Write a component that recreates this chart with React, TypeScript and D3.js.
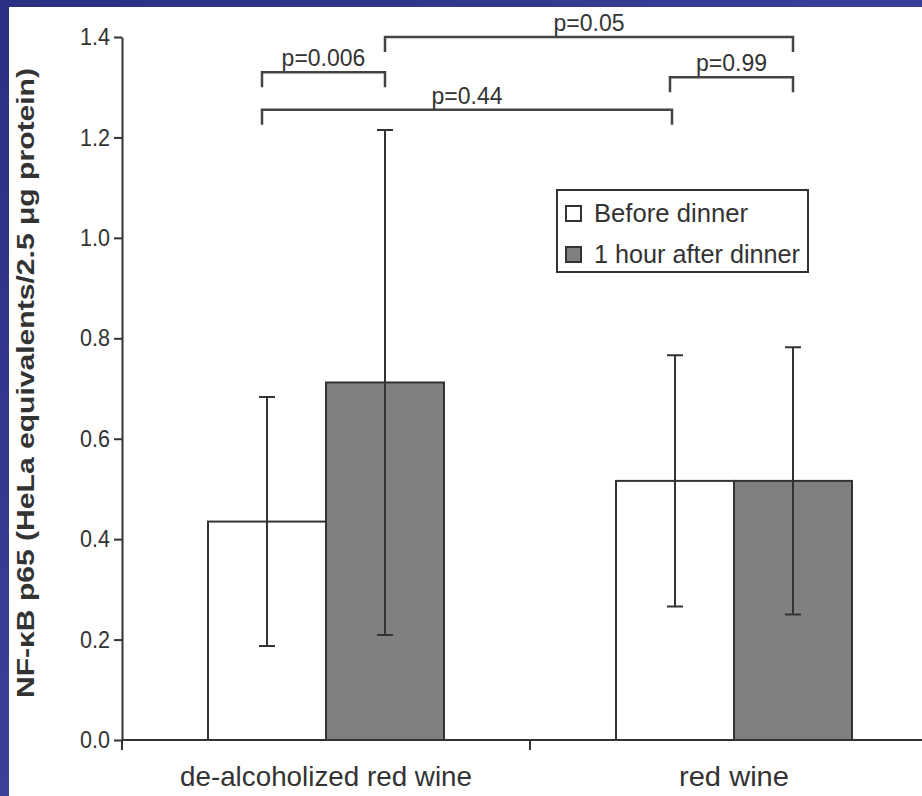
import React, { useEffect, useRef } from 'react';
import * as d3 from 'd3';

const categories = ['de-alcoholized red wine', 'red wine'];
const seriesNames = ['Before dinner', '1 hour after dinner'];
const beforeMeans = [0.435, 0.516];
const afterMeans = [0.712, 0.516];
const beforeSD = [0.248, 0.25];
const afterSD = [0.503, 0.266];
const yTicks = [0, 0.2, 0.4, 0.6, 0.8, 1.0, 1.2, 1.4];

// significance brackets: [category, series] at each end, level in y units
const pLabels = ['p=0.05', 'p=0.006', 'p=0.99', 'p=0.44'];
const pFrom = [[0, 1], [0, 0], [1, 0], [0, 0]];
const pTo = [[1, 1], [0, 1], [1, 1], [1, 0]];
const pLevel = [1.4, 1.33, 1.32, 1.255];

const W = 922;
const H = 796;
const FONT = "'Liberation Sans', Arial, Helvetica, sans-serif";
const INK = '#333';

const App = () => {
  const ref = useRef<SVGSVGElement>(null);

  useEffect(() => {
    const svg = d3.select(ref.current);
    svg.selectAll('*').remove();

    // background
    const defs = svg.append('defs');
    const grad = defs.append('linearGradient')
      .attr('id', 'bg').attr('x1', 0).attr('y1', 0).attr('x2', 1).attr('y2', 1);
    grad.append('stop').attr('offset', '0%').attr('stop-color', '#2a2f82');
    grad.append('stop').attr('offset', '100%').attr('stop-color', '#4a50b0');
    svg.append('rect').attr('width', W).attr('height', H).attr('fill', 'url(#bg)');
    svg.append('rect').attr('x', 9).attr('y', 7).attr('width', W - 9).attr('height', H - 7).attr('fill', '#fff');

    const x0 = d3.scaleBand().domain(categories).range([122, 938]).padding(0);
    const x1 = d3.scaleBand().domain(seriesNames).range([86, x0.bandwidth() - 86]).padding(0);
    const y = d3.scaleLinear().domain([0, 1.4]).range([740, 37]);

    const rows = categories.map((c, i) => [
      { cat: c, key: seriesNames[0], mean: beforeMeans[i], sd: beforeSD[i], fill: '#fff' },
      { cat: c, key: seriesNames[1], mean: afterMeans[i], sd: afterSD[i], fill: '#808080' },
    ]);
    const cx = (ci: number, si: number) =>
      (x0(categories[ci]) as number) + (x1(seriesNames[si]) as number) + x1.bandwidth() / 2;

    // bars
    const g = svg.append('g');
    const bars = g.selectAll('g.bar').data(rows.flat()).enter().append('g');
    bars.append('rect')
      .attr('x', d => (x0(d.cat) as number) + (x1(d.key) as number))
      .attr('y', d => y(d.mean))
      .attr('width', x1.bandwidth())
      .attr('height', d => y(0) - y(d.mean))
      .attr('fill', d => d.fill)
      .attr('stroke', INK)
      .attr('stroke-width', 2);

    // error bars
    bars.append('path')
      .attr('d', d => {
        const x = (x0(d.cat) as number) + (x1(d.key) as number) + x1.bandwidth() / 2;
        const t = y(d.mean + d.sd);
        const b = y(d.mean - d.sd);
        return `M${x - 8},${t}H${x + 8}M${x},${t}V${b}M${x - 8},${b}H${x + 8}`;
      })
      .attr('fill', 'none')
      .attr('stroke', INK)
      .attr('stroke-width', 2);

    // y axis
    const yAxis = svg.append('g').attr('transform', 'translate(122,0)')
      .call(d3.axisLeft(y).tickValues(yTicks).tickFormat(d3.format('.1f')).tickSize(8).tickSizeOuter(0).tickPadding(4));
    yAxis.select('.domain').attr('stroke', INK).attr('stroke-width', 2);
    yAxis.selectAll('.tick line').attr('stroke', INK).attr('stroke-width', 2);
    yAxis.selectAll('.tick text')
      .attr('fill', INK).attr('font-family', FONT).attr('font-size', 24)
      .attr('textLength', 30).attr('lengthAdjust', 'spacingAndGlyphs');

    // x axis
    svg.append('line')
      .attr('x1', 122).attr('x2', W).attr('y1', y(0)).attr('y2', y(0))
      .attr('stroke', INK).attr('stroke-width', 2);
    svg.append('g').selectAll('line')
      .data([x0.range()[0], ...categories.slice(1).map(c => x0(c) as number)])
      .enter().append('line')
      .attr('x1', d => d).attr('x2', d => d)
      .attr('y1', y(0)).attr('y2', y(0) + 10)
      .attr('stroke', INK).attr('stroke-width', 2);
    const catWidths = [292, 110];
    svg.append('g').selectAll('text')
      .data(categories).enter().append('text')
      .attr('x', d => (x0(d) as number) + x0.bandwidth() / 2)
      .attr('y', 786)
      .attr('text-anchor', 'middle')
      .attr('font-family', FONT)
      .attr('font-size', 28)
      .attr('fill', INK)
      .attr('textLength', (d, i) => catWidths[i])
      .attr('lengthAdjust', 'spacingAndGlyphs')
      .text(d => d);

    // y title
    svg.append('text')
      .attr('transform', 'translate(34,383) rotate(-90)')
      .attr('text-anchor', 'middle')
      .attr('font-family', FONT)
      .attr('font-weight', 'bold')
      .attr('font-size', 24)
      .attr('fill', INK)
      .attr('textLength', 630)
      .attr('lengthAdjust', 'spacingAndGlyphs')
      .text('NF-\u03baB p65 (HeLa equivalents/2.5 \u03bcg protein)');

    // brackets
    const br = svg.append('g');
    pLabels.forEach((lab, i) => {
      const a = cx(pFrom[i][0], pFrom[i][1]) - (pFrom[i][1] === 0 ? 5 : 0);
      const b = cx(pTo[i][0], pTo[i][1]) - (pTo[i][1] === 0 ? 3 : 0);
      const ly = y(pLevel[i]);
      br.append('path')
        .attr('d', `M${a},${ly + 15}V${ly}H${b}V${ly + 15}`)
        .attr('fill', 'none').attr('stroke', '#444').attr('stroke-width', 2.5);
      br.append('text')
        .attr('x', (a + b) / 2)
        .attr('y', ly - 6)
        .attr('text-anchor', 'middle')
        .attr('font-family', FONT)
        .attr('font-size', 23)
        .attr('fill', INK)
        .text(lab);
    });

    // legend
    const lg = svg.append('g').attr('transform', 'translate(557,190)');
    lg.append('rect').attr('width', 251).attr('height', 82)
      .attr('fill', '#fff').attr('stroke', INK).attr('stroke-width', 2);
    const legWidths = [154, 206];
    const items = lg.selectAll('g.item').data(seriesNames).enter().append('g')
      .attr('transform', (d, i) => `translate(9,${16 + i * 41})`);
    items.append('rect').attr('width', 15).attr('height', 15)
      .attr('fill', (d, i) => (i === 0 ? '#fff' : '#808080'))
      .attr('stroke', INK).attr('stroke-width', 2);
    items.append('text')
      .attr('x', 28).attr('y', 16)
      .attr('font-family', FONT)
      .attr('font-size', 25)
      .attr('fill', INK)
      .attr('textLength', (d, i) => legWidths[i])
      .attr('lengthAdjust', 'spacingAndGlyphs')
      .text(d => d);
  }, []);

  return (
    <svg ref={ref} width={W} height={H}
      style={{ position: 'absolute', left: 0, top: 0, display: 'block' }} />
  );
};

export default App;
